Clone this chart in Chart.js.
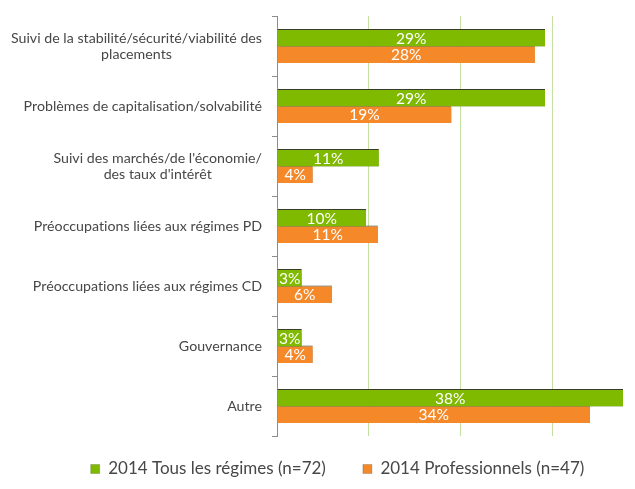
<!DOCTYPE html>
<html><head><meta charset="utf-8">
<script src="https://cdn.jsdelivr.net/npm/chart.js@4/dist/chart.umd.min.js"></script>
<style>html,body{margin:0;padding:0;background:#fff}</style>
</head><body>
<canvas id="c" width="635" height="489"></canvas>
<script>
const categories = [
  ["Suivi de la stabilité/sécurité/viabilité des", "placements"],
  ["Problèmes de capitalisation/solvabilité"],
  ["Suivi des marchés/de l'économie/", "des taux d'intérêt"],
  ["Préoccupations liées aux régimes PD"],
  ["Préoccupations liées aux régimes CD"],
  ["Gouvernance"],
  ["Autre"]
];
const seriesNames = ["2014 Tous les régimes (n=72)", "2014 Professionnels (n=47)"];
const tousLesRegimes = [29.2, 29.2, 11.1, 9.7, 2.7, 2.7, 37.7];
const professionnels = [28.1, 19.0, 3.9, 11.0, 6.0, 3.9, 34.1];
const xTicks = [0, 10, 20, 30];

const GREEN = '#7fba00';
const ORANGE = '#f5892a';
const TEXT = '#474747';
const FONT = 'Lato';

const shadowPlugin = {
  id: 'barShadow',
  beforeDatasetDraw(chart) {
    const c = chart.ctx;
    c.save();
    c.shadowColor = 'rgba(0,0,0,0.32)';
    c.shadowBlur = 2;
    c.shadowOffsetX = 2;
    c.shadowOffsetY = 2;
  },
  afterDatasetDraw(chart) { chart.ctx.restore(); }
};

const valueLabels = {
  id: 'valueLabels',
  afterDatasetsDraw(chart) {
    const c = chart.ctx;
    c.save();
    c.fillStyle = '#ffffff';
    c.font = '15.5px ' + FONT;
    c.textAlign = 'center';
    c.textBaseline = 'middle';
    chart.data.datasets.forEach((ds, di) => {
      const meta = chart.getDatasetMeta(di);
      meta.data.forEach((el, i) => {
        c.fillText(Math.round(ds.data[i]) + '%', (el.x + el.base) / 2, el.y + 1);
      });
    });
    c.restore();
  }
};

const categoryLabels = {
  id: 'categoryLabels',
  afterDraw(chart) {
    const c = chart.ctx;
    const y = chart.scales.y;
    c.save();
    c.fillStyle = TEXT;
    c.font = '14.2px ' + FONT;
    try { c.letterSpacing = '0.01px'; } catch (e) {}
    c.textAlign = 'center';
    c.textBaseline = 'middle';
    const right = y.right - 15;
    categories.forEach((lines, i) => {
      const maxW = Math.max(...lines.map(l => c.measureText(l).width));
      const cx = right - maxW / 2;
      const cy = y.getPixelForTick(i);
      lines.forEach((l, j) => {
        c.fillText(l, cx, cy + (j - (lines.length - 1) / 2) * 16);
      });
    });
    c.restore();
  }
};

const legendShift = {
  id: 'legendShift',
  afterLayout(chart) {
    chart.legend.top -= 12.5;
    chart.legend.bottom -= 12.5;
  }
};

new Chart(document.getElementById('c'), {
  type: 'bar',
  data: {
    labels: categories,
    datasets: [
      { label: seriesNames[0], data: tousLesRegimes, backgroundColor: GREEN,
        borderColor: '#3b3b2a', borderWidth: {top: 1, right: 0, bottom: 0, left: 0}, borderSkipped: false },
      { label: seriesNames[1], data: professionnels, backgroundColor: ORANGE,
        borderColor: '#3b3b2a', borderWidth: {top: 1, right: 0, bottom: 0, left: 0}, borderSkipped: false }
    ]
  },
  options: {
    indexAxis: 'y',
    responsive: false,
    animation: false,
    devicePixelRatio: 1,
    categoryPercentage: 0.55,
    barPercentage: 1.06,
    layout: { padding: { left: 40, top: 16, right: 0, bottom: -11 } },
    scales: {
      x: {
        min: 0, max: 39,
        afterBuildTicks: s => { s.ticks = xTicks.map(v => ({ value: v })); },
        ticks: { display: false },
        border: { display: false },
        grid: {
          drawTicks: false,
          color: ctx => (ctx.tick && ctx.tick.value > 0) ? '#c5dfa3' : 'rgba(0,0,0,0)',
          lineWidth: 1
        }
      },
      y: {
        afterFit: s => { s.width = 237; },
        ticks: { display: false },
        border: { display: true, color: '#8c8c8c', width: 1 },
        grid: { drawOnChartArea: false, drawTicks: true, tickLength: 5, color: '#8c8c8c', offset: true }
      }
    },
    plugins: {
      tooltip: { enabled: false },
      legend: {
        position: 'bottom',
        labels: {
          boxWidth: 9, boxHeight: 9, padding: 37,
          color: TEXT,
          font: { family: FONT, size: 17 }
        }
      }
    }
  },
  plugins: [shadowPlugin, valueLabels, categoryLabels, legendShift]
});
</script>
</body></html>
